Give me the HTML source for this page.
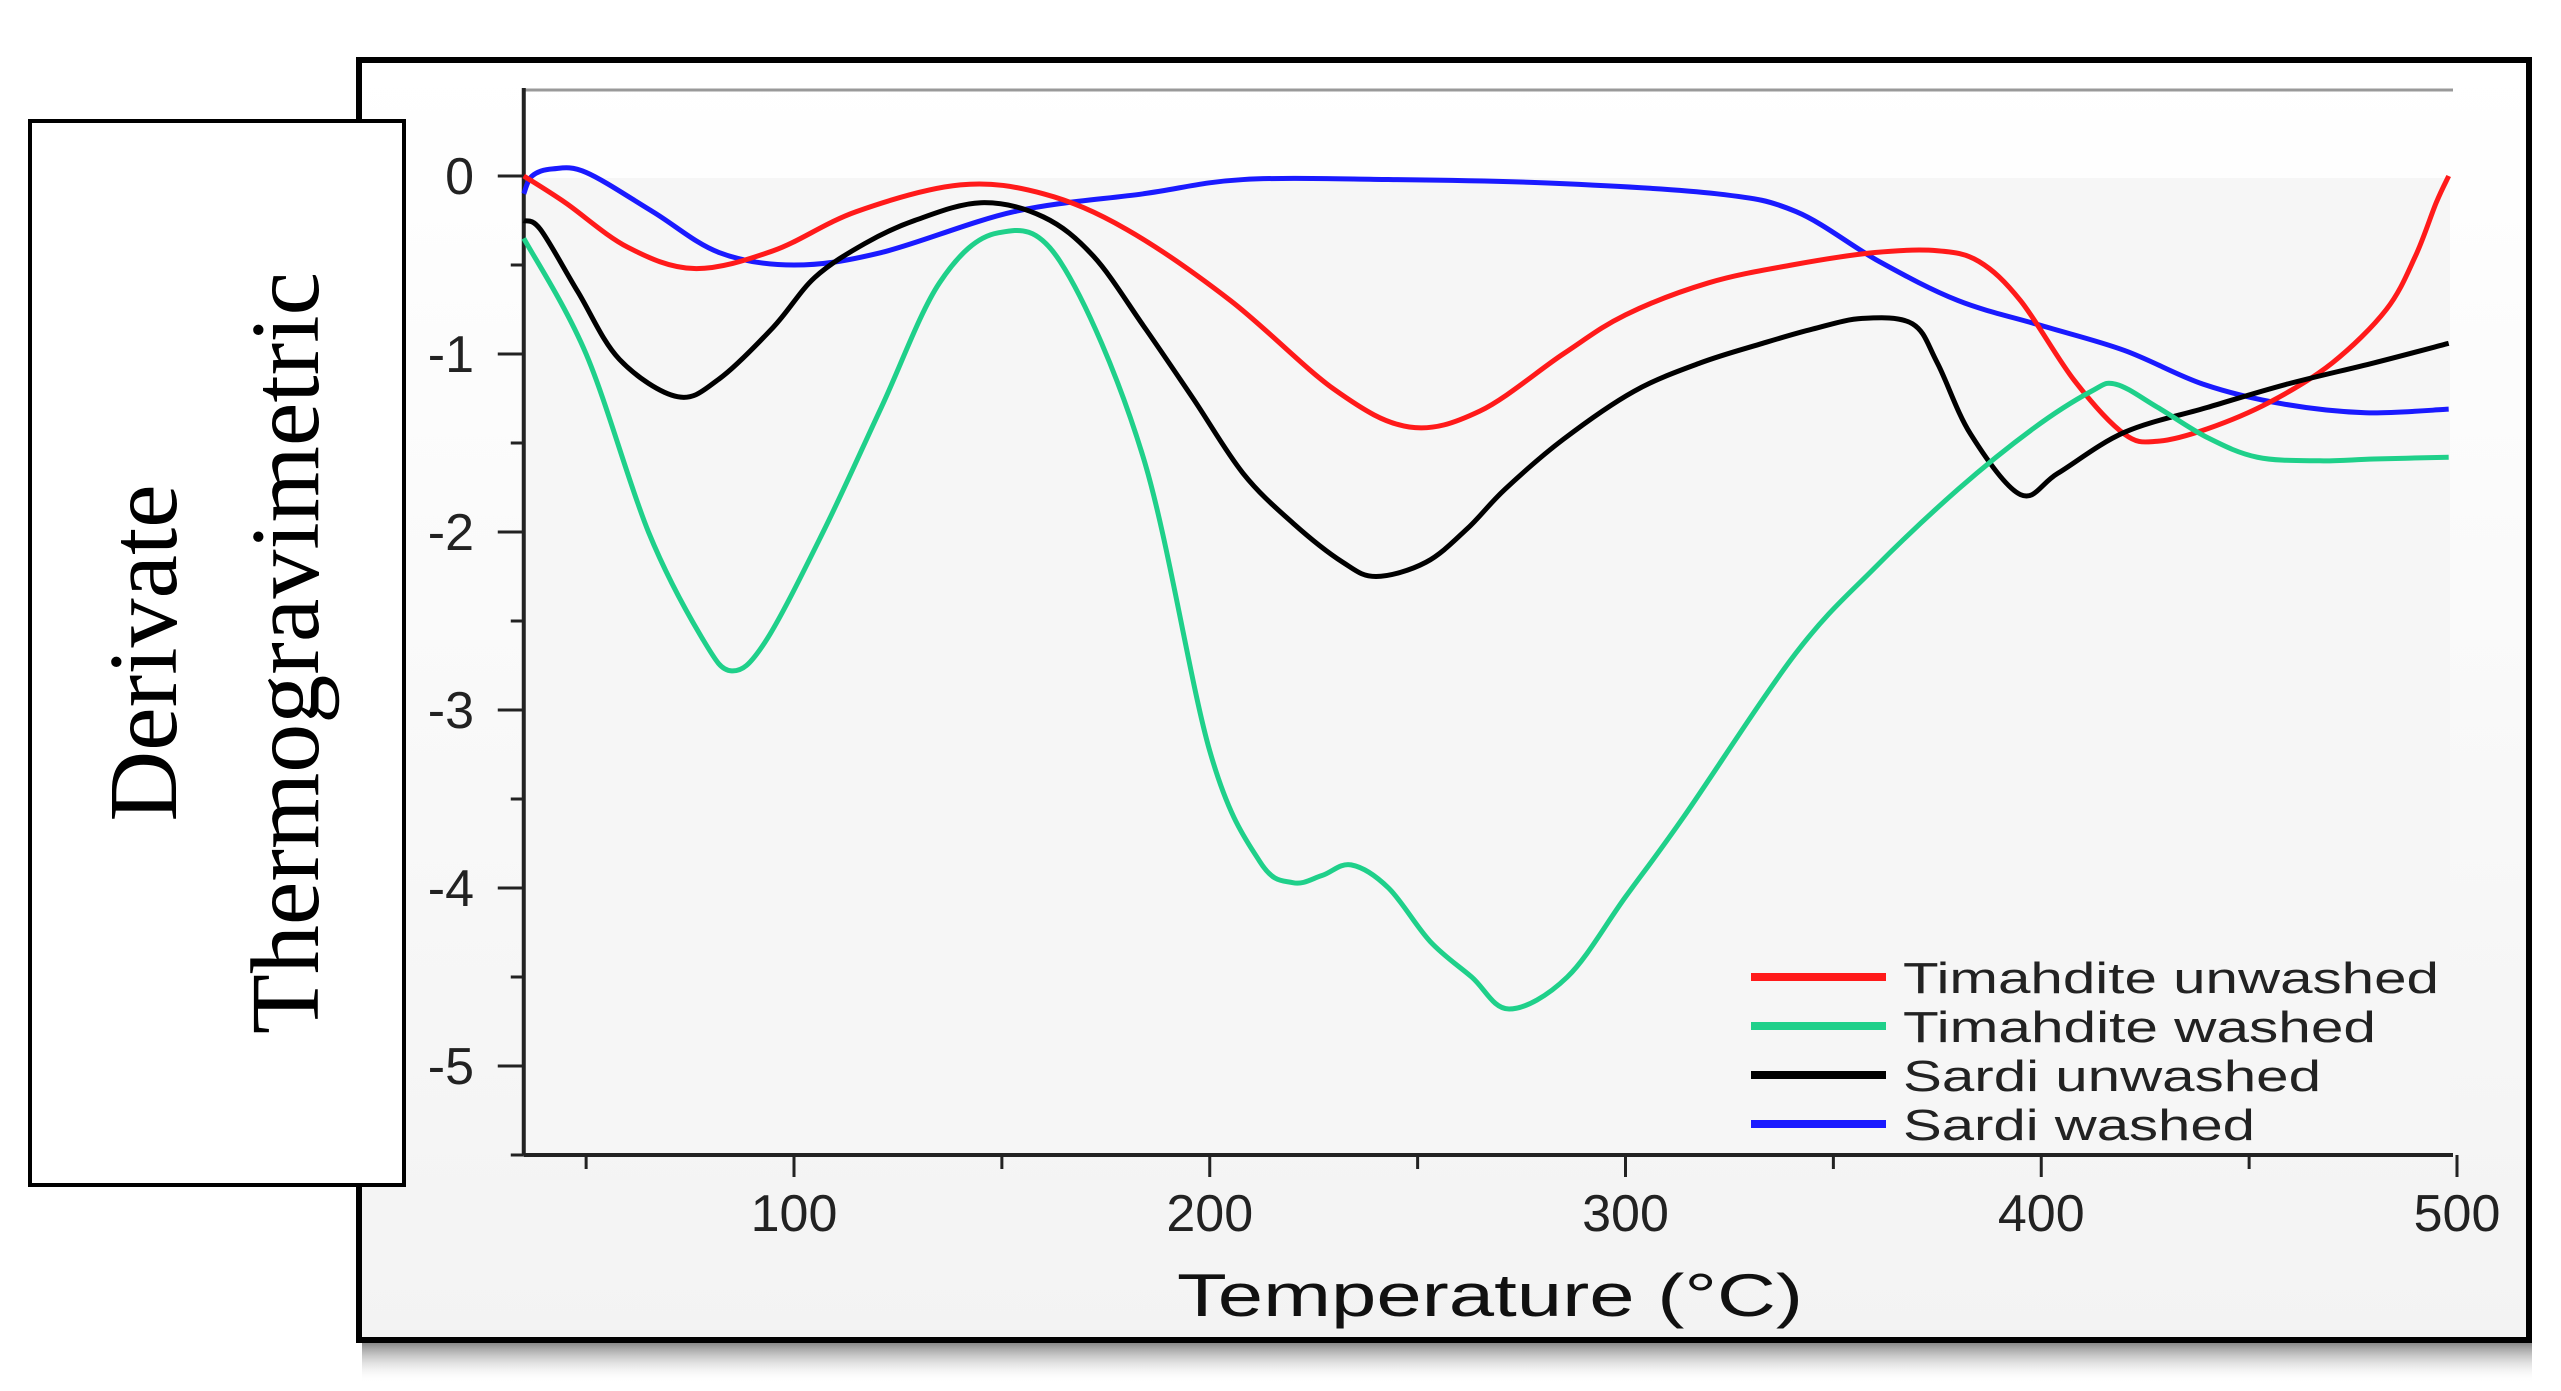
<!DOCTYPE html>
<html><head><meta charset="utf-8"><style>
html,body{margin:0;padding:0;background:#fff;width:2561px;height:1391px;overflow:hidden}
svg{display:block}
</style></head><body>
<svg id="chart" width="2561" height="1391" viewBox="0 0 2561 1391" xmlns="http://www.w3.org/2000/svg">
<defs>
<linearGradient id="bg" x1="0" y1="0" x2="0" y2="1"><stop offset="0" stop-color="#ffffff"/><stop offset="1" stop-color="#f3f3f3"/></linearGradient>
<linearGradient id="sh" x1="0" y1="0" x2="0" y2="1"><stop offset="0" stop-color="#888"/><stop offset="1" stop-color="#fff" stop-opacity="0"/></linearGradient>
</defs>
<rect x="362" y="1343" width="2170" height="40" fill="url(#sh)"/>
<rect x="359" y="60" width="2170" height="1280" fill="url(#bg)" stroke="#000" stroke-width="6"/>
<rect x="525" y="178" width="1925" height="975" fill="#f6f6f6"/>
<line x1="523" y1="90" x2="2453" y2="90" stroke="#999" stroke-width="3"/>
<g id="axes"></g>
<g id="series"></g>
<g id="legend"></g>
<text x="1490" y="1316" font-family="Liberation Sans, sans-serif" font-size="60" text-anchor="middle" textLength="626" lengthAdjust="spacingAndGlyphs" fill="#111">Temperature (°C)</text>
<rect x="30" y="121" width="374" height="1064" fill="#fff" stroke="#000" stroke-width="4"/>
<g transform="translate(212,653) rotate(-90)">
<text x="0" y="-36" font-family="Liberation Serif, serif" font-size="98" text-anchor="middle" fill="#000">Derivate</text>
<text x="0" y="106" font-family="Liberation Serif, serif" font-size="98" text-anchor="middle" fill="#000">Thermogravimetric</text>
</g>
</svg>
<script>
const xTicks=[100,200,300,400,500];
const yTicks=[0,-1,-2,-3,-4,-5];
const seriesNames=["Timahdite unwashed","Timahdite washed","Sardi unwashed","Sardi washed"];
const seriesColors=["#ff1a1a","#1fd08a","#000000","#1a1aff"];
const redT=[35,45,60,76,95,115,140,160,180,205,230,248,265,285,300,320,340,360,375,385,395,408,420,428,440,455,470,483,490,495,498];
const redV=[0,-0.15,-0.4,-0.52,-0.42,-0.2,-0.05,-0.1,-0.3,-0.7,-1.2,-1.41,-1.32,-1.0,-0.78,-0.6,-0.5,-0.43,-0.42,-0.48,-0.7,-1.15,-1.45,-1.49,-1.42,-1.27,-1.05,-0.75,-0.45,-0.15,0];
const greenT=[35,50,65,78,85,93,107,121,135,149,164,184,200,212,220,227,234,243,253,263,272,286,300,314,341,360,380,398,412,418,428,440,452,467,480,498];
const greenV=[-0.35,-1.0,-2.0,-2.6,-2.78,-2.62,-2.0,-1.3,-0.6,-0.32,-0.48,-1.58,-3.23,-3.85,-3.97,-3.93,-3.87,-4.0,-4.3,-4.5,-4.68,-4.5,-4.05,-3.6,-2.68,-2.2,-1.76,-1.42,-1.21,-1.17,-1.3,-1.47,-1.58,-1.6,-1.59,-1.58];
const blackT=[35,39,48,58,72,82,95,105,117,129,145,160,172,184,196,208,220,232,240,252,262,271,285,302,318,333,345,357,369,375,383,395,404,420,440,459,480,498];
const blackV=[-0.25,-0.3,-0.65,-1.03,-1.24,-1.14,-0.85,-0.57,-0.38,-0.25,-0.15,-0.23,-0.45,-0.84,-1.25,-1.67,-1.95,-2.17,-2.25,-2.17,-1.98,-1.76,-1.48,-1.21,-1.05,-0.94,-0.86,-0.8,-0.83,-1.05,-1.45,-1.79,-1.67,-1.44,-1.3,-1.17,-1.05,-0.94];
const blueT=[35,37,42,50,66,82,100,121,153,184,208,243,282,322,341,361,380,400,420,439,458,478,498];
const blueV=[-0.1,0,0.04,0.02,-0.2,-0.43,-0.5,-0.43,-0.2,-0.1,-0.02,-0.02,-0.04,-0.1,-0.2,-0.48,-0.7,-0.84,-0.98,-1.17,-1.28,-1.33,-1.31];
const NS="http://www.w3.org/2000/svg";
const sx=t=>794+(t-100)*4.1575;
const sy=v=>176-v*178;
const X0=sx(35),Y1=1155;
function mk(tag,attrs,parent){const e=document.createElementNS(NS,tag);for(const k in attrs)e.setAttribute(k,attrs[k]);parent.appendChild(e);return e;}
const axes=document.getElementById('axes');
let l=mk('line',{x1:X0,y1:88,x2:X0,y2:Y1,stroke:'#222','stroke-width':4},axes);


l=mk('line',{x1:X0,y1:Y1,x2:2453,y2:Y1,stroke:'#222','stroke-width':4},axes);


yTicks.forEach(v=>{
 const y=sy(v);
 const t=mk('line',{x1:X0-26,y1:y,x2:X0,y2:y,stroke:'#222','stroke-width':3},axes);
 
 
 const m=mk('line',{x1:X0-13,y1:y+89,x2:X0,y2:y+89,stroke:'#222','stroke-width':3},axes);
 
 
 const tx=mk('text',{x:474,y:y+18,'font-family':'Liberation Sans, sans-serif','font-size':52,'text-anchor':'end',fill:'#222'},axes);
 tx.textContent=String(v);
 
 
});
xTicks.forEach(v=>{
 const x=sx(v);
 const t=mk('line',{x1:x,y1:Y1,x2:x,y2:Y1+22,stroke:'#222','stroke-width':3},axes);
 
 
 const m=mk('line',{x1:sx(v-50),y1:Y1,x2:sx(v-50),y2:Y1+14,stroke:'#222','stroke-width':3},axes);
 
 
 const tx=mk('text',{x:x,y:1231,'font-family':'Liberation Sans, sans-serif','font-size':52,'text-anchor':'middle',fill:'#222'},axes);
 tx.textContent=String(v);
 
 
});
function pathFor(T,V){
 const p=T.map((t,i)=>[sx(t),sy(V[i])]);
 let d='M'+p[0][0]+','+p[0][1];
 for(let i=0;i<p.length-1;i++){
  const p0=p[Math.max(0,i-1)],p1=p[i],p2=p[i+1],p3=p[Math.min(p.length-1,i+2)];
  const c1=[p1[0]+(p2[0]-p0[0])/6,p1[1]+(p2[1]-p0[1])/6];
  const c2=[p2[0]-(p3[0]-p1[0])/6,p2[1]-(p3[1]-p1[1])/6];
  d+=' C'+c1[0]+','+c1[1]+' '+c2[0]+','+c2[1]+' '+p2[0]+','+p2[1];
 }
 return d;
}
const sg=document.getElementById('series');
const data=[[blueT,blueV],[redT,redV],[blackT,blackV],[greenT,greenV]];
const idx=[3,0,2,1];
const snames=['series-sardi-washed','series-timahdite-unwashed','series-sardi-unwashed','series-timahdite-washed'];
data.forEach((d,k)=>{
 const p=mk('path',{d:pathFor(d[0],d[1]),fill:'none',stroke:seriesColors[idx[k]],'stroke-width':5,'stroke-linejoin':'round'},sg);
 
 
});
const lg=document.getElementById('legend');
const legLens=[536,473,418,352];
seriesNames.forEach((n,i)=>{
 const y=977+i*49;
 const ln=mk('line',{x1:1751,y1:y,x2:1886,y2:y,stroke:seriesColors[i],'stroke-width':8},lg);
 
 
 const tx=mk('text',{x:1903,y:y+16,'font-family':'Liberation Sans, sans-serif','font-size':44,fill:'#222',textLength:legLens[i],lengthAdjust:'spacingAndGlyphs'},lg);
 tx.textContent=n;
 
 
});
</script>
</body></html>
